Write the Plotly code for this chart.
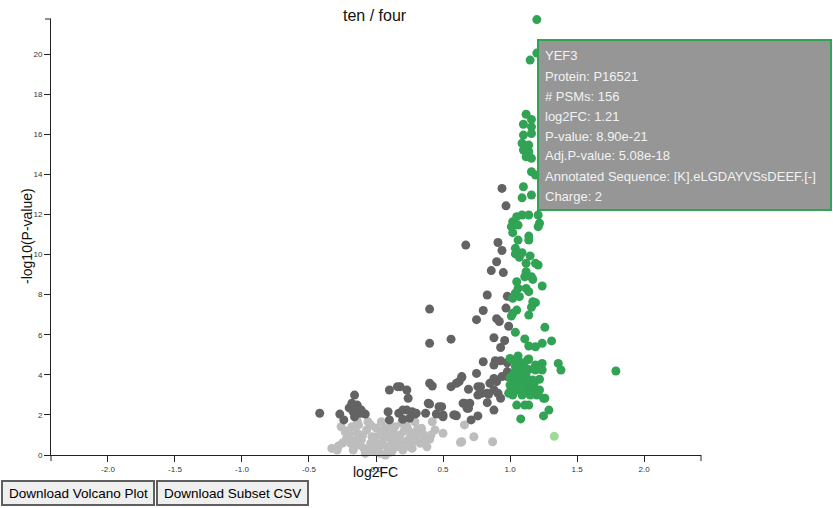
import plotly.graph_objects as go

# ---------------- data (log2FC, -log10 P) ----------------
green_x = [1.20, 1.20, 1.15, 1.12, 1.16, 1.10, 1.16, 1.10, 1.16, 1.09, 1.14, 1.10, 1.14, 1.12, 1.16,
           1.16, 1.19, 1.10, 1.16, 1.09, 1.09, 1.05, 1.14, 1.21, 1.02, 1.01, 1.06, 1.22, 1.21,
           1.02, 1.14, 1.14, 1.06, 1.04, 1.04, 1.09, 1.07, 1.15, 1.12, 1.19, 1.21, 1.12, 1.11, 1.16,
           1.17, 1.05, 1.24, 1.06, 1.12, 1.14, 1.04, 1.02, 1.07, 1.17, 1.19, 1.16, 1.05, 1.02, 1.01,
           1.14, 1.26, 1.04, 1.11, 1.14, 1.19, 1.24, 1.31,
           1.01, 1.06, 1.13, 1.07, 1.19, 1.24, 1.36, 1.38, 1.79, 1.04, 1.09, 1.14, 1.19, 1.24,
           1.02, 1.07, 1.12, 1.17, 1.22, 1.04, 1.10, 1.16, 1.00, 1.06, 1.12, 1.19, 1.22, 1.02,
           1.09, 1.25, 1.05, 1.11, 1.14, 1.29, 1.25, 1.08,
           1.00, 1.14, 1.10, 1.22, 1.00, 1.12, 1.20, 1.26, 1.03, 1.08, 1.13, 1.18, 1.03, 1.07,
           1.12, 1.15, 1.09, 1.03, 1.00, 1.05, 0.99, 1.15]
green_y = [21.72, 20.05, 19.70, 17.00, 16.74, 16.50, 16.37, 15.96, 16.04, 15.55, 15.46, 15.21, 15.13, 14.88, 14.80,
           14.13, 13.97, 13.38, 12.97, 12.83, 11.97, 11.89, 11.97, 11.97, 11.64, 11.39, 11.47, 11.56, 11.39,
           11.09, 10.92, 10.72, 10.72, 10.31, 10.03, 10.09, 9.86, 9.93, 9.56, 9.56, 9.48, 9.14, 8.89, 8.89,
           8.76, 8.64, 8.43, 8.31, 8.31, 8.15, 8.07, 7.82, 7.90, 7.65, 7.60, 7.37, 7.23, 7.07, 6.93,
           6.98, 6.37, 6.12, 5.79, 5.44, 5.40, 5.57, 5.69,
           4.77, 4.94, 4.74, 4.65, 4.49, 4.57, 4.57, 4.24, 4.19, 4.40, 4.24, 4.27, 4.24, 4.24,
           3.91, 3.82, 3.91, 3.74, 3.78, 3.49, 3.58, 3.49, 3.16, 3.24, 3.28, 3.24, 3.24, 2.99,
           2.99, 2.83, 2.49, 2.49, 2.49, 2.24, 1.95, 1.80,
           4.82, 4.79, 4.49, 4.32, 3.49, 3.41, 2.99, 2.83, 3.70, 3.62, 3.65, 3.55, 4.10, 4.05,
           4.10, 3.20, 3.10, 3.25, 3.85, 4.65, 3.08, 2.99]

dark_x = [0.94, 0.97, 0.67, 0.91, 0.94, 0.90, 0.86, 0.95, 0.83, 0.98, 0.40, 0.80, 0.97, 0.75, 0.90,
          0.92, 0.99, 0.56, 0.40, 0.88, 0.96, 0.93,
          0.80, 0.89, 0.93, 0.98, 0.88, 0.75, 0.64, 0.62, 0.40, 0.42, 0.56, 0.60, 0.76, 0.85, 0.90,
          0.94, 0.98, 0.98, 0.69, 0.76, 0.79, 0.84, 0.88, 0.91, 0.93, 0.83, 0.65, 0.69, 0.88, 0.76,
          0.71, 0.60, 0.50, 0.47, 0.40, 0.45, 0.20, 0.24, 0.23, 0.18, 0.37, 0.30, 0.20, 0.25,
          -0.42, -0.27, -0.24, -0.16, -0.18, -0.14, -0.17, -0.12, -0.08, -0.11, -0.16, 0.10, 0.16,
          0.09, 0.10, 0.17, 0.23, 0.29, 0.39, 0.49, 0.50, 0.59, 0.64, 0.66, 0.68, 0.78, 0.83, 0.88,
          0.70, 0.27, 0.58, -0.13, -0.20]
dark_y = [13.30, 12.43, 10.47, 10.60, 10.20, 9.64, 9.20, 9.10, 7.98, 7.92, 7.28, 7.21, 7.33, 6.75, 6.80,
          6.66, 6.42, 5.78, 5.57, 5.85, 5.71, 5.36,
          4.65, 4.70, 4.70, 4.60, 4.49, 4.07, 3.91, 3.66, 3.58, 3.44, 3.41, 3.58, 3.41, 3.58, 3.66,
          3.91, 3.91, 4.16, 3.28, 2.99, 3.08, 3.03, 3.24, 3.08, 2.83, 2.61, 2.58, 2.33, 2.24, 1.95,
          1.75, 1.96, 2.00, 2.41, 2.54, 2.04, 2.24, 2.83, 3.24, 3.41, 2.08, 2.08, 1.78, 1.83,
          2.08, 2.04, 1.75, 2.99, 2.58, 2.49, 2.16, 2.08, 2.04, 2.24, 1.91, 3.24, 3.41,
          2.16, 1.75, 2.08, 2.24, 2.04, 2.58, 2.41, 1.91, 2.00, 3.87, 2.58, 2.33, 3.41, 3.08, 3.82,
          2.58, 2.16, 2.00, 2.30, 2.35]

light_x = [-0.33, -0.29, -0.26, -0.22, -0.19, -0.17, -0.14, -0.13, -0.11, -0.09, -0.07, -0.06, -0.04,
           -0.02, 0.00, 0.03, 0.04, 0.05, 0.08, 0.09, 0.12, 0.14, 0.15, 0.18, 0.19, 0.22, 0.24, 0.27,
           0.29, 0.30, 0.34, 0.38, 0.39, 0.42, 0.44, 0.50, 0.66, 0.64, 0.73, -0.23, -0.18, -0.03, 0.07,
           -0.12, -0.01, 0.09, 0.25, 0.33, 0.20, -0.08, 0.07, 0.40, 0.87, 0.63, 0.23, 0.35, -0.20,
           0.01, 0.11, -0.15, 0.17, 0.26,
           -0.25, -0.21, -0.16, -0.10, -0.05, 0.02, 0.06, 0.10, 0.13, 0.16, 0.21, 0.24, 0.28, 0.31,
           0.36, 0.41, -0.28, 0.00, -0.04, 0.10, -0.20, 0.12, 0.04, -0.14]
light_y = [0.33, 0.25, 1.41, 0.83, 0.58, 0.25, 1.08, 1.50, 0.75, 0.33, 1.25, 1.66, 0.58,
           0.17, 0.91, 0.08, 1.66, 0.50, 1.08, 0.25, 0.75, 1.41, 0.41, 1.00, 1.58, 0.66, 1.25, 0.33,
           1.66, 0.91, 1.33, 0.41, 0.83, 1.66, 1.25, 1.08, 1.50, 0.66, 0.91, 1.16, 1.41, 0.91, 1.33,
           0.50, 0.50, 0.91, 0.83, 0.58, 0.25, 0.08, 0.00, 0.78, 0.66, 0.63, 1.41, 1.05, 1.05,
           0.20, 0.15, 0.70, 0.60, 1.10,
           0.60, 1.20, 0.45, 1.00, 0.30, 0.55, 0.85, 0.45, 1.10, 0.70, 1.20, 0.45, 0.70, 1.30,
           0.70, 1.00, 0.45, 1.35, 1.50, 1.45, 0.90, 0.20, 1.20, 1.70]

lightgreen_x = [1.33]
lightgreen_y = [0.93]

x_ticks = [-2.0, -1.5, -1.0, -0.5, 0.0, 0.5, 1.0, 1.5, 2.0]
x_tick_labels = ["-2.0", "-1.5", "-1.0", "-0.5", "0.0", "0.5", "1.0", "1.5", "2.0"]
y_ticks = [0, 2, 4, 6, 8, 10, 12, 14, 16, 18, 20]
y_tick_labels = [str(v) for v in y_ticks]

tooltip_lines = ["YEF3", "Protein: P16521", "# PSMs: 156", "log2FC: 1.21",
                 "P-value: 8.90e-21", "Adj.P-value: 5.08e-18",
                 "Annotated Sequence: [K].eLGDAYVSsDEEF.[-]", "Charge: 2"]

# ---------------- layout geometry ----------------
W, H = 833, 508
L, R, T, B = 51, 132, 19, 53
PW = W - L - R
PH = H - T - B
FONT = "Liberation Sans, Arial, Helvetica, sans-serif"


def px(x):
    return (x - L) / PW


def py(y):
    return (T + PH - y) / PH


GREEN = "#31a354"
DARK = "#636363"
LIGHT = "#bdbdbd"
LGREEN = "#a1d99b"

fig = go.Figure()
for xs, ys, col in [(light_x, light_y, LIGHT), (dark_x, dark_y, DARK),
                    (lightgreen_x, lightgreen_y, LGREEN), (green_x, green_y, GREEN)]:
    fig.add_trace(go.Scatter(x=xs, y=ys, mode="markers",
                             marker=dict(size=9, color=col, line=dict(width=0)),
                             cliponaxis=False, hoverinfo="skip", showlegend=False))

shapes = []
# outer (domain end) ticks like d3
shapes.append(dict(type="line", xref="paper", yref="paper", x0=0, x1=0, y0=0, y1=-6 / PH,
                   line=dict(color="#222", width=1)))
shapes.append(dict(type="line", xref="paper", yref="paper", x0=1, x1=1, y0=0, y1=-6 / PH,
                   line=dict(color="#222", width=1)))
shapes.append(dict(type="line", xref="paper", yref="paper", x0=0, x1=-6 / PW, y0=1, y1=1,
                   line=dict(color="#222", width=1)))
# tooltip box
shapes.append(dict(type="rect", xref="paper", yref="paper", x0=px(538), x1=px(831),
                   y0=py(210), y1=py(40), fillcolor="#969696",
                   line=dict(color=GREEN, width=2), layer="above"))
# buttons
for x0, x1 in [(2, 154), (157, 308)]:
    shapes.append(dict(type="rect", xref="paper", yref="paper", x0=px(x0), x1=px(x1),
                       y0=py(505), y1=py(481), fillcolor="#efefef",
                       line=dict(color="#5f5f5f", width=2), layer="above"))

annotations = []
annotations.append(dict(text="ten / four", xref="paper", yref="paper", x=px(375), y=py(15),
                        xanchor="center", yanchor="middle", showarrow=False,
                        font=dict(family=FONT, size=16, color="#111")))
annotations.append(dict(text="log2FC", xref="paper", yref="paper", x=px(375), y=py(472),
                        xanchor="center", yanchor="middle", showarrow=False,
                        font=dict(family=FONT, size=14, color="#111")))
annotations.append(dict(text="-log10(P-value)", xref="paper", yref="paper", x=px(27), y=py(236),
                        xanchor="center", yanchor="middle", textangle=-90, showarrow=False,
                        font=dict(family=FONT, size=14, color="#111")))
line_y = [55.7, 76, 96, 116, 136, 156, 176.7, 196.7]
for txt, yy in zip(tooltip_lines, line_y):
    annotations.append(dict(text=txt, xref="paper", yref="paper", x=px(543), y=py(yy),
                            xanchor="left", yanchor="middle", showarrow=False,
                            font=dict(family=FONT, size=13, color="#f2f2f2")))
for txt, cx in [("Download Volcano Plot", 78), ("Download Subset CSV", 232.5)]:
    annotations.append(dict(text=txt, xref="paper", yref="paper", x=px(cx), y=py(493.5),
                            xanchor="center", yanchor="middle", showarrow=False,
                            font=dict(family=FONT, size=13.5, color="#000")))

axis_common = dict(showline=True, linecolor="#222", linewidth=1, ticks="outside", ticklen=6,
                   tickwidth=1, tickcolor="#222", showgrid=False, zeroline=False,
                   tickfont=dict(family=FONT, size=8, color="#333"), fixedrange=True)

fig.update_layout(
    width=W, height=H, autosize=False,
    margin=dict(l=L, r=R, t=T, b=B, pad=0),
    paper_bgcolor="white", plot_bgcolor="white",
    xaxis=dict(range=[-2.425, 2.425], tickmode="array", tickvals=x_ticks, ticktext=x_tick_labels,
               **axis_common),
    yaxis=dict(range=[0, 21.75], tickmode="array", tickvals=y_ticks, ticktext=y_tick_labels,
               **axis_common),
    shapes=shapes, annotations=annotations, showlegend=False, hovermode=False,
)

fig.write_html("out.html", config={"displayModeBar": False},
               post_script="document.body.style.margin='0';document.body.style.overflow='hidden';")
